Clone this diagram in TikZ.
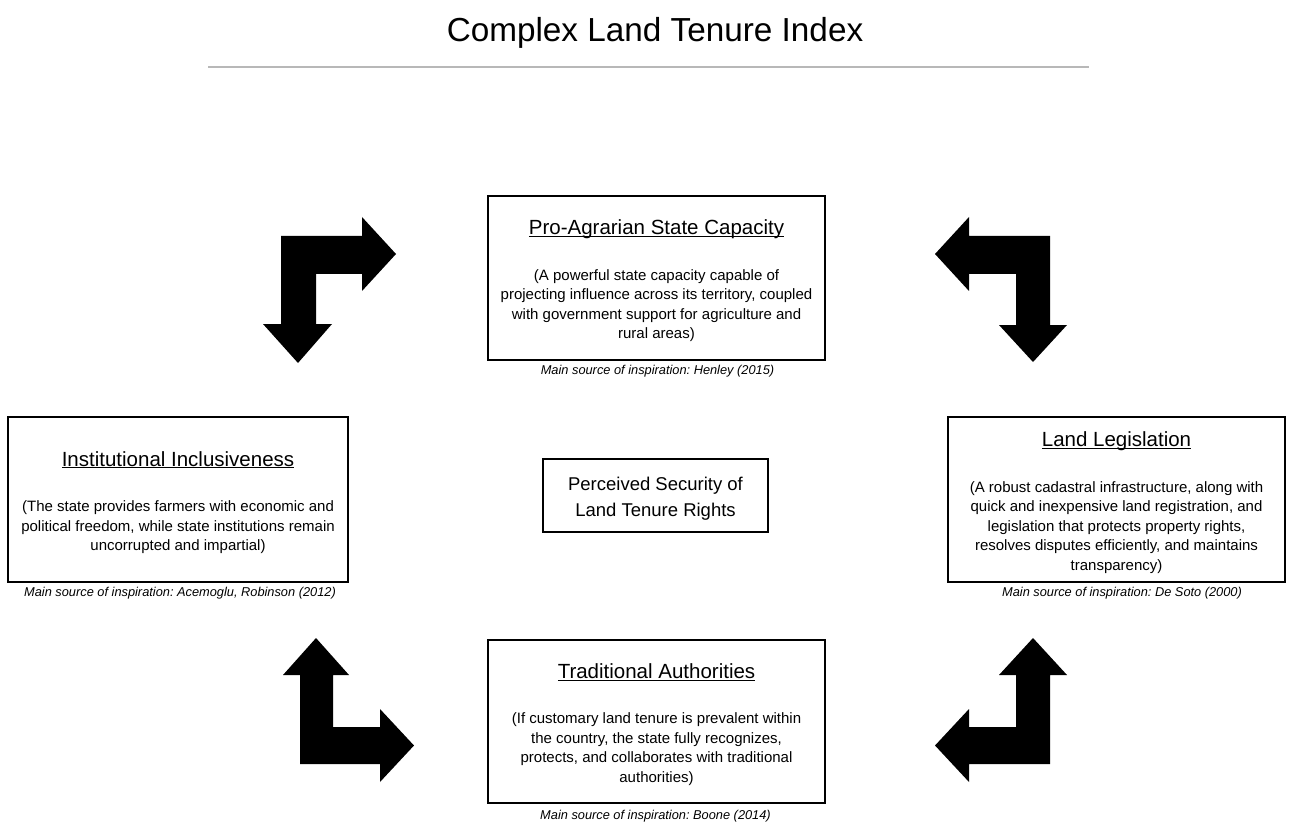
\documentclass[tikz,border=0pt]{standalone}
\usepackage{fontspec}
\setmainfont{Liberation Sans}
\frenchspacing
\newcommand\descfont{\fontsize{15}{19.5}\selectfont}
\newcommand\boxtitlefont{\fontsize{20.5}{24}\selectfont}
\newcommand\capfont{\fontsize{12.8}{14}\selectfont\itshape}
\newcommand\headfont{\fontsize{33.3}{38}\selectfont}
\newcommand\centerfont{\fontsize{18.5}{25.5}\selectfont}
\newcommand\boxtitle[1]{{\boxtitlefont\rule{0pt}{21pt}\underline{\raisebox{0pt}[\height][0pt]{#1}}}}
\definecolor{rulegray}{HTML}{B8B8B8}
\tikzset{
  factor/.style={draw=black, line width=1.6pt, inner sep=0pt, align=center, font=\descfont},
  core/.style={draw=black, line width=1.6pt, inner sep=0pt, align=center, font=\centerfont,
    minimum width=225pt, minimum height=73pt},
  source/.style={inner sep=0pt, font=\capfont},
  bigarrow/.style={fill=black, draw=none},
}
\begin{document}
\begin{tikzpicture}[x=1pt, y=-1pt]
\useasboundingbox (0,0) rectangle (1290,826);

% heading
\node[inner sep=0pt, font=\headfont] (head) at (655,33) {Complex Land Tenure Index};
\coordinate (ruleL) at (208,67);
\coordinate (ruleR) at (1089,67);
\draw[rulegray, line width=1.4pt] (ruleL) -- (ruleR);

% factor boxes
\node[factor, minimum width=337pt, minimum height=164pt] (pasc) at (656.5,278)
  {\boxtitle{Pro-Agrarian State Capacity}\\[26pt]
   (A powerful state capacity capable of\\
   projecting influence across its territory, coupled\\
   with government support for agriculture and\\
   rural areas)};
\node[source] (pasc-src) at (657.5,371) {Main source of inspiration: Henley (2015)};

\node[factor, minimum width=340pt, minimum height=165pt] (inst) at (178,499.5)
  {\boxtitle{Institutional Inclusiveness}\\[26pt]
   (The state provides farmers with economic and\\
   political freedom, while state institutions remain\\
   uncorrupted and impartial)};
\node[source] (inst-src) at (180,593) {Main source of inspiration: Acemoglu, Robinson (2012)};

\node[factor, minimum width=337pt, minimum height=165pt] (legis) at (1116.5,499.5)
  {\boxtitle{Land Legislation}\\[26pt]
   (A robust cadastral infrastructure, along with\\
   quick and inexpensive land registration, and\\
   legislation that protects property rights,\\
   resolves disputes efficiently, and maintains\\
   transparency)};
\node[source] (legis-src) at (1122,593) {Main source of inspiration: De Soto (2000)};

\node[factor, minimum width=337pt, minimum height=163pt] (trad) at (656.5,721.5)
  {\boxtitle{Traditional Authorities}\\[26pt]
   (If customary land tenure is prevalent within\\
   the country, the state fully recognizes,\\
   protects, and collaborates with traditional\\
   authorities)};
\node[source] (trad-src) at (655.5,816) {Main source of inspiration: Boone (2014)};

\node[core] (core) at (655.5,495.5) {\rule{0pt}{20pt}Perceived Security of\\Land Tenure Rights};

% bent double arrows
\fill[bigarrow] (396,254) -- (362,217) -- (362,236) -- (281,236) -- (281,324) -- (263,324)
  -- (298,363) -- (332,324) -- (316,324) -- (316,274) -- (362,274) -- (362,291) -- cycle;
\fill[bigarrow] (935,254) -- (969,217) -- (969,236) -- (1050,236) -- (1050,325) -- (1067,325)
  -- (1033,362) -- (999,325) -- (1016,325) -- (1016,274) -- (969,274) -- (969,291) -- cycle;
\fill[bigarrow] (316,638) -- (349,675) -- (333,675) -- (333,727) -- (380,727) -- (380,709)
  -- (414,745.5) -- (380,782) -- (380,764) -- (300,764) -- (300,675) -- (283,675) -- cycle;
\fill[bigarrow] (1033,638) -- (1067,675) -- (1050,675) -- (1050,764) -- (969,764) -- (969,782)
  -- (935,745.5) -- (969,709) -- (969,727) -- (1016,727) -- (1016,675) -- (999,675) -- cycle;
\end{tikzpicture}
\end{document}
